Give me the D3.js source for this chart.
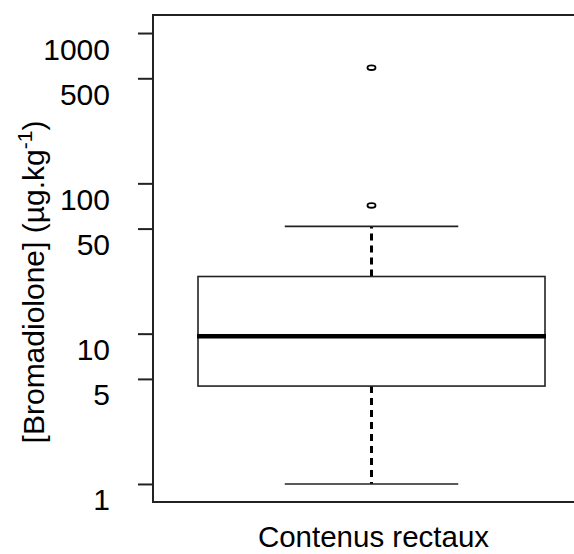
<!DOCTYPE html>
<html>
<head>
<meta charset="utf-8">
<script src="https://cdn.jsdelivr.net/npm/d3@7"></script>
<style>
  html, body { margin: 0; padding: 0; background: #fff; }
  svg { display: block; }
  text { font-family: "Liberation Sans", Arial, sans-serif; fill: #000; }
</style>
</head>
<body>
<svg id="chart" width="574" height="554"></svg>
<script>
// ---- data ----
const categories = ["Contenus rectaux"];
const whiskerLow = [1.0];
const q1 = [4.48];
const median = [9.6];
const q3 = [24.0];
const whiskerHigh = [51.7];
const outliers = [[71.3, 588]];
const yTicks = [1, 5, 10, 50, 100, 500, 1000];
const yTitle = "[Bromadiolone] (µg.kg";

// ---- layout ----
const W = 574, H = 554;
const frame = { left: 153, top: 15, right: 600, bottom: 502 };
const ink = "#222";

const svg = d3.select("#chart");

const y = d3.scaleLog()
  .domain([Math.pow(10, -0.12), Math.pow(10, 3.12)])
  .range([frame.bottom, frame.top]);

const x = d3.scaleBand()
  .domain(categories)
  .range([198, 545])
  .paddingInner(0).paddingOuter(0);

// frame (right edge falls outside the picture)
svg.append("path")
  .attr("d", `M${frame.right},${frame.top}H${frame.left}V${frame.bottom}H${frame.right}`)
  .attr("fill", "none").attr("stroke", ink).attr("stroke-width", 2);

// y axis
const yAxis = d3.axisLeft(y).tickValues(yTicks).tickFormat(d3.format("d")).tickSize(15).tickPadding(28);
const gy = svg.append("g").attr("transform", `translate(${frame.left},0)`).call(yAxis);
gy.select(".domain").remove();
gy.selectAll(".tick line").attr("stroke", ink).attr("stroke-width", 2);
gy.selectAll(".tick text")
  .attr("dy", null)
  .attr("y", 26)
  .attr("font-size", 30)
  .attr("font-family", "Liberation Sans, Arial, sans-serif")
  .attr("fill", "#000");

// y title
const t = svg.append("text")
  .attr("transform", `translate(44,282) rotate(-90)`)
  .attr("text-anchor", "middle")
  .attr("font-size", 30);
t.append("tspan").text(yTitle);
t.append("tspan").text("-1").attr("font-size", 21).attr("dy", -12);
t.append("tspan").text(")").attr("dy", 12);

// x label
svg.append("text")
  .attr("x", x(categories[0]) + x.bandwidth() / 2 + 2)
  .attr("y", 547)
  .attr("text-anchor", "middle")
  .attr("font-size", 29.5)
  .text(categories[0]);

// boxes
categories.forEach((c, i) => {
  const g = svg.append("g");
  const x0 = x(c), bw = x.bandwidth(), cx = x0 + bw / 2;
  const capHalf = bw / 4;
  // whiskers (dashed)
  g.append("line").attr("x1", cx).attr("x2", cx)
    .attr("y1", y(q3[i])).attr("y2", y(whiskerHigh[i]))
    .attr("stroke", "#000").attr("stroke-width", 3).attr("stroke-dasharray", "7,5");
  g.append("line").attr("x1", cx).attr("x2", cx)
    .attr("y1", y(q1[i])).attr("y2", y(whiskerLow[i]))
    .attr("stroke", "#000").attr("stroke-width", 3).attr("stroke-dasharray", "7,5");
  // staples
  [whiskerHigh[i], whiskerLow[i]].forEach(v => {
    g.append("line").attr("x1", cx - capHalf).attr("x2", cx + capHalf)
      .attr("y1", y(v)).attr("y2", y(v))
      .attr("stroke", ink).attr("stroke-width", 1.6);
  });
  // box
  g.append("rect").attr("x", x0).attr("width", bw)
    .attr("y", y(q3[i])).attr("height", y(q1[i]) - y(q3[i]))
    .attr("fill", "#fff").attr("stroke", ink).attr("stroke-width", 1.6);
  // median
  g.append("line").attr("x1", x0 - 1).attr("x2", x0 + bw + 1)
    .attr("y1", y(median[i])).attr("y2", y(median[i]))
    .attr("stroke", "#000").attr("stroke-width", 4.5);
  // outliers
  outliers[i].forEach(v => {
    g.append("ellipse").attr("cx", cx).attr("cy", y(v))
      .attr("rx", 4).attr("ry", 2.3)
      .attr("fill", "none").attr("stroke", "#000").attr("stroke-width", 1.8);
  });
});
</script>
</body>
</html>
